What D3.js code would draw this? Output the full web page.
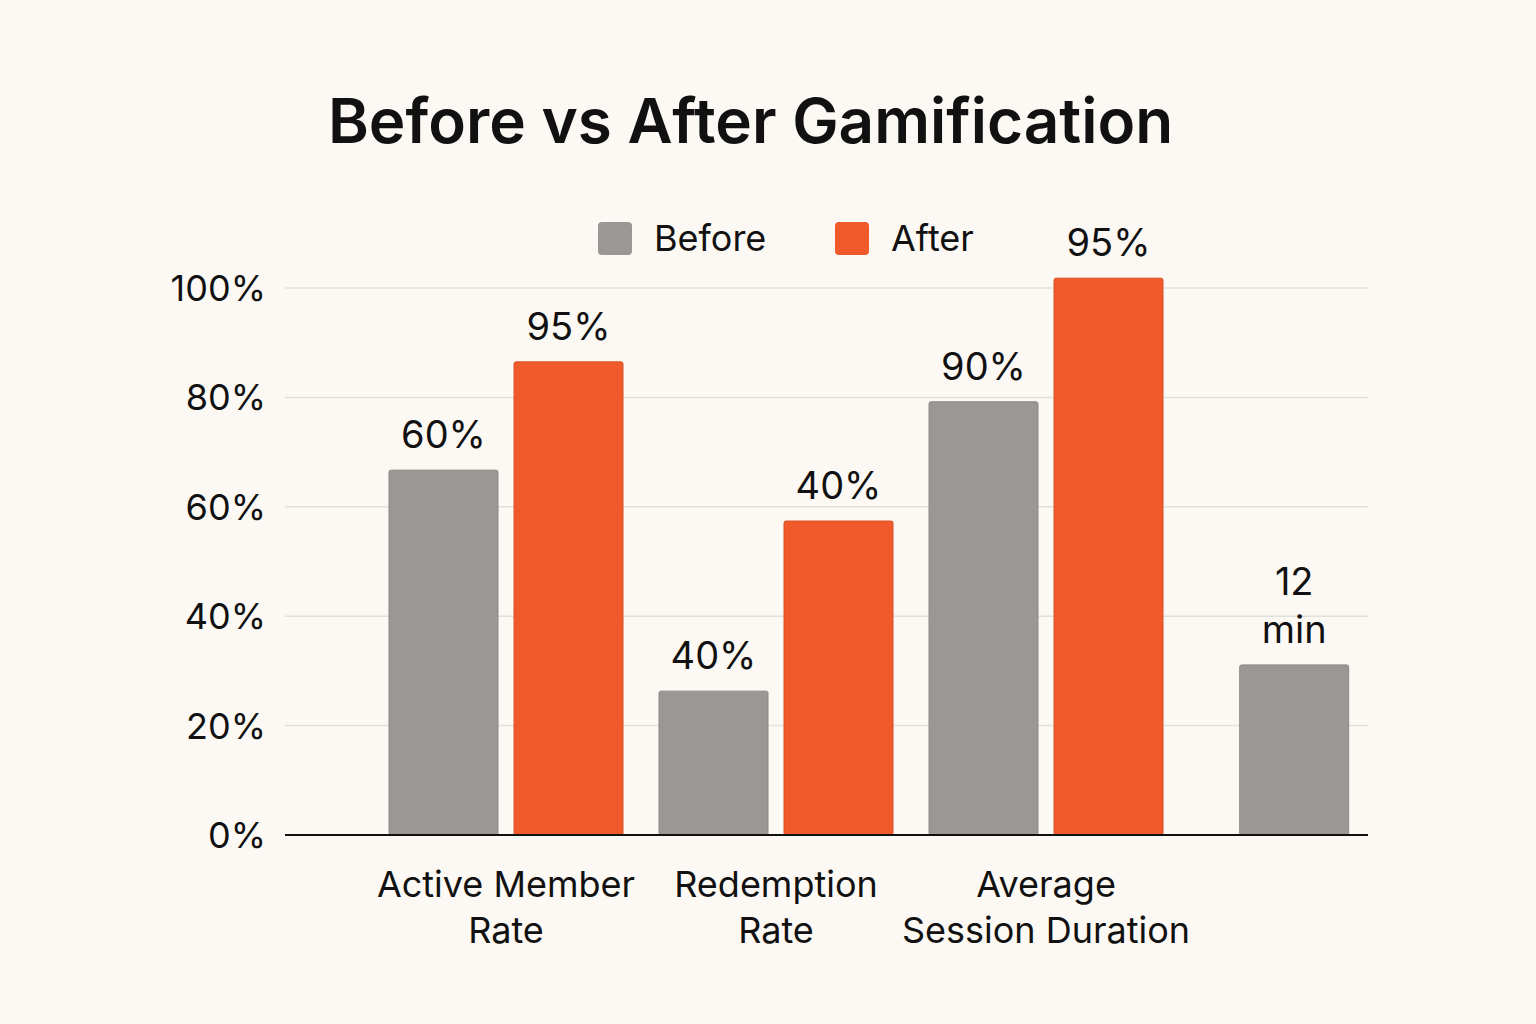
<!DOCTYPE html>
<html><head><meta charset="utf-8">
<script src="https://cdn.jsdelivr.net/npm/d3@7"></script>
<style>body{margin:0;background:#fcf9f4}svg{display:block}text{font-family:Inter,"Noto Sans",sans-serif;fill:#111}</style>
</head><body>
<script>
const categories = ["Active Member Rate","Redemption Rate","Average Session Duration",""];
const catLines = [["Active Member","Rate"],["Redemption","Rate"],["Average","Session Duration"],[]];
const beforeValues = [66.7, 26.3, 79.2, 31.1];
const afterValues = [86.5, 57.4, 101.8, null];
const beforeLabels = [["60%"],["40%"],["90%"],["12","min"]];
const afterLabels = [["95%"],["40%"],["95%"],null];
const yTicks = [0,20,40,60,80,100];

const W=1536,H=1024;
const svg=d3.select("body").append("svg").attr("width",W).attr("height",H);
svg.append("rect").attr("width",W).attr("height",H).attr("fill","#fcf9f4");
const y=d3.scaleLinear().domain([0,100]).range([835,288]);
const x0=d3.scaleBand().domain(categories.map((c,i)=>i)).range([371,1451]);
const bw=109,gap=16;
const GREY="#9a9894",OR="#f05a2a";

svg.append("g").selectAll("line").data(yTicks.slice(1)).join("line")
 .attr("x1",285).attr("x2",1368).attr("y1",d=>y(d)).attr("y2",d=>y(d)).attr("stroke","#e2e0da").attr("stroke-width",1.5);
svg.append("g").selectAll("text").data(yTicks).join("text")
 .attr("x",266).attr("y",d=>y(d)+13).attr("text-anchor","end").attr("font-size",36).text(d=>d+"%");

const bars=[];
categories.forEach((c,i)=>{
  const cx=x0(i)+x0.bandwidth()/2;
  if(afterValues[i]==null){bars.push({x:cx-bw*0.7,v:beforeValues[i],c:GREY,l:beforeLabels[i]});}
  else{
    bars.push({x:cx-gap/2-bw,v:beforeValues[i],c:GREY,l:beforeLabels[i]});
    bars.push({x:cx+gap/2,v:afterValues[i],c:OR,l:afterLabels[i]});
  }
});
const bg=svg.append("g");
bg.selectAll("rect").data(bars).join("rect")
 .attr("x",d=>d.x).attr("width",bw).attr("y",d=>y(d.v)).attr("height",d=>y(0)-y(d.v))
 .attr("fill",d=>d.c).attr("rx",2).attr("stroke",d=>d3.color(d.c).darker(0.3)).attr("stroke-width",1);
bars.forEach(d=>{
  const n=d.l.length;
  d.l.forEach((t,k)=>{
    bg.append("text").attr("x",d.x+bw/2).attr("y",y(d.v)-22-(n-1-k)*48)
      .attr("text-anchor","middle").attr("font-size",38).text(t);
  });
});
svg.append("line").attr("x1",285).attr("x2",1368).attr("y1",y(0)).attr("y2",y(0)).attr("stroke","#111").attr("stroke-width",2);

categories.forEach((c,i)=>{
  const cx=x0(i)+x0.bandwidth()/2;
  catLines[i].forEach((t,k)=>svg.append("text").attr("x",cx).attr("y",897+k*46)
    .attr("text-anchor","middle").attr("font-size",36).text(t));
});

svg.append("text").attr("x",328).attr("y",143).attr("font-size",62).attr("font-weight",600).text("Before vs After Gamification");

const leg=[{n:"Before",c:GREY,x:598},{n:"After",c:OR,x:835}];
leg.forEach(l=>{
  svg.append("rect").attr("x",l.x).attr("y",222).attr("width",34).attr("height",33).attr("rx",4).attr("fill",l.c);
  svg.append("text").attr("x",l.x+56).attr("y",251).attr("font-size",36).text(l.n);
});
</script>
</body></html>
